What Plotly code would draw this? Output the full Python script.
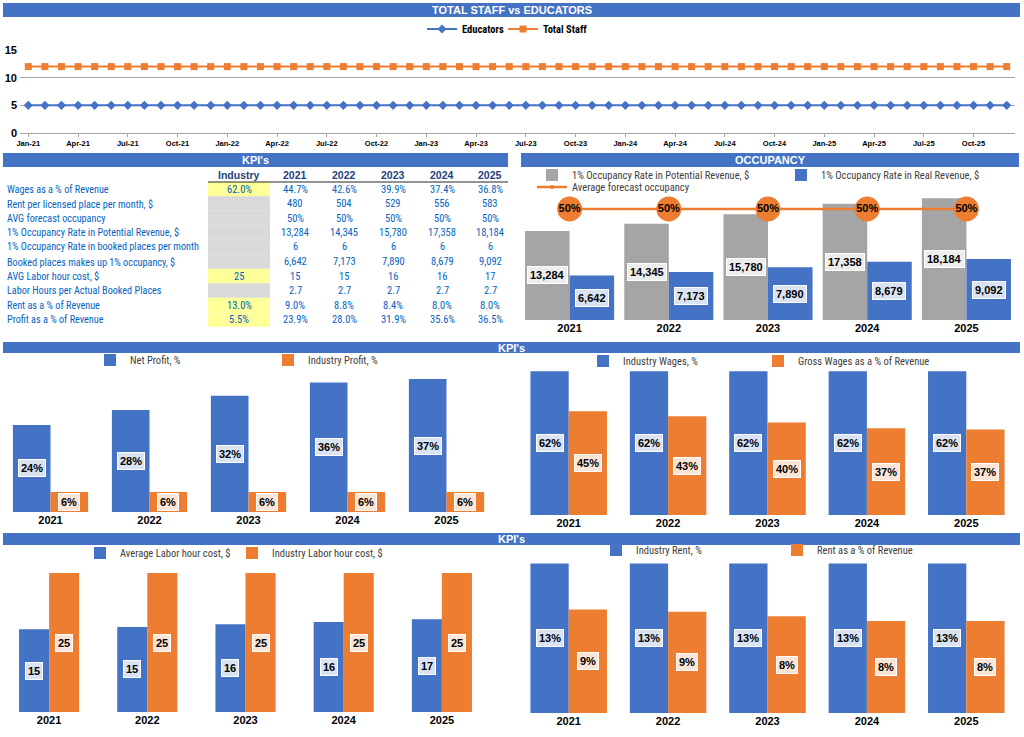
import math
import plotly.graph_objects as go

W, H = 1024, 737
def fx(x): return x / W
def fy(y): return 1 - y / H

BLUE = "#4472C4"; ORANGE = "#ED7D31"; GRAY = "#A5A5A5"
FONT = "Liberation Sans"
NARROW = "Liberation Sans Narrow, Arial Narrow, Roboto Condensed, DejaVu Sans Condensed, Liberation Sans"
TXT_BLUE = "#0563C1"; HDR_BLUE = "#1F3F7F"

# ---------------- data ----------------
months = [
    "Jan-21", "Feb-21", "Mar-21", "Apr-21", "May-21", "Jun-21", "Jul-21", "Aug-21", "Sep-21", "Oct-21", "Nov-21", "Dec-21",
    "Jan-22", "Feb-22", "Mar-22", "Apr-22", "May-22", "Jun-22", "Jul-22", "Aug-22", "Sep-22", "Oct-22", "Nov-22", "Dec-22",
    "Jan-23", "Feb-23", "Mar-23", "Apr-23", "May-23", "Jun-23", "Jul-23", "Aug-23", "Sep-23", "Oct-23", "Nov-23", "Dec-23",
    "Jan-24", "Feb-24", "Mar-24", "Apr-24", "May-24", "Jun-24", "Jul-24", "Aug-24", "Sep-24", "Oct-24", "Nov-24", "Dec-24",
    "Jan-25", "Feb-25", "Mar-25", "Apr-25", "May-25", "Jun-25", "Jul-25", "Aug-25", "Sep-25", "Oct-25", "Nov-25", "Dec-25",
]
educators = [
    5, 5, 5, 5, 5, 5, 5, 5, 5, 5, 5, 5,
    5, 5, 5, 5, 5, 5, 5, 5, 5, 5, 5, 5,
    5, 5, 5, 5, 5, 5, 5, 5, 5, 5, 5, 5,
    5, 5, 5, 5, 5, 5, 5, 5, 5, 5, 5, 5,
    5, 5, 5, 5, 5, 5, 5, 5, 5, 5, 5, 5,
]
total_staff = [
    12, 12, 12, 12, 12, 12, 12, 12, 12, 12, 12, 12,
    12, 12, 12, 12, 12, 12, 12, 12, 12, 12, 12, 12,
    12, 12, 12, 12, 12, 12, 12, 12, 12, 12, 12, 12,
    12, 12, 12, 12, 12, 12, 12, 12, 12, 12, 12, 12,
    12, 12, 12, 12, 12, 12, 12, 12, 12, 12, 12, 12,
]
staff_ticks = ["Jan-21", "Apr-21", "Jul-21", "Oct-21", "Jan-22", "Apr-22", "Jul-22", "Oct-22",
               "Jan-23", "Apr-23", "Jul-23", "Oct-23", "Jan-24", "Apr-24", "Jul-24", "Oct-24",
               "Jan-25", "Apr-25", "Jul-25", "Oct-25"]
staff_yticks = [0, 5, 10, 15]

years = ["2021", "2022", "2023", "2024", "2025"]

kpi_header = ["Industry", "2021", "2022", "2023", "2024", "2025"]
kpi_labels = [
    "Wages as a % of Revenue",
    "Rent per licensed place per month, $",
    "AVG forecast occupancy",
    "1% Occupancy Rate in Potential Revenue, $",
    "1% Occupancy Rate in booked places per month",
    "Booked places makes up 1% occupancy, $",
    "AVG Labor hour cost, $",
    "Labor Hours per Actual Booked Places",
    "Rent as a % of Revenue",
    "Profit as a % of Revenue",
]
kpi_industry = ["62.0%", "", "", "", "", "", "25", "", "13.0%", "5.5%"]
kpi_2021 = ["44.7%", "480", "50%", "13,284", "6", "6,642", "15", "2.7", "9.0%", "23.9%"]
kpi_2022 = ["42.6%", "504", "50%", "14,345", "6", "7,173", "15", "2.7", "8.8%", "28.0%"]
kpi_2023 = ["39.9%", "529", "50%", "15,780", "6", "7,890", "16", "2.7", "8.4%", "31.9%"]
kpi_2024 = ["37.4%", "556", "50%", "17,358", "6", "8,679", "16", "2.7", "8.0%", "35.6%"]
kpi_2025 = ["36.8%", "583", "50%", "18,184", "6", "9,092", "17", "2.7", "8.0%", "36.5%"]
industry_fill = ["#FFFF99", "#D9D9D9", "#D9D9D9", "#D9D9D9", "#D9D9D9", "#D9D9D9",
                 "#FFFF99", "#D9D9D9", "#FFFF99", "#FFFF99"]

potential_revenue = [13284, 14345, 15780, 17358, 18184]
real_revenue = [6642, 7173, 7890, 8679, 9092]
avg_occupancy = [0.5, 0.5, 0.5, 0.5, 0.5]

net_profit = [23.9, 28.0, 31.9, 35.6, 36.5]
industry_profit = [5.5, 5.5, 5.5, 5.5, 5.5]

industry_wages = [62.0, 62.0, 62.0, 62.0, 62.0]
gross_wages = [44.7, 42.6, 39.9, 37.4, 36.8]

avg_labor_cost = [14.9, 15.3, 15.8, 16.2, 16.7]
industry_labor_cost = [25, 25, 25, 25, 25]

industry_rent = [13.0, 13.0, 13.0, 13.0, 13.0]
rent_pct = [9.0, 8.8, 8.4, 8.0, 8.0]

# ---------------- helpers ----------------
def r0(v):
    return math.floor(v + 0.5)

fmt_pct = lambda v: f"{r0(v)}%"
fmt_int = lambda v: f"{r0(v)}"
fmt_thou = lambda v: f"{v:,.0f}"

fig = go.Figure()
legends = {}

def add_legend(key, text_x, y, bold=False, color="#404040"):
    f = dict(family=NARROW, size=10.5, color=color)
    if bold:
        f["weight"] = "bold"
    legends[key] = dict(x=fx(text_x - 40), y=fy(y), xref="paper", yref="paper",
                        xanchor="left", yanchor="middle", orientation="h",
                        bgcolor="rgba(0,0,0,0)", borderwidth=0, font=f)

def header(x0, x1, y0, y1, text):
    fig.add_shape(type="rect", xref="paper", yref="paper", x0=fx(x0), x1=fx(x1), y0=fy(y1), y1=fy(y0),
                  fillcolor=BLUE, line=dict(width=0), layer="below")
    fig.add_annotation(xref="paper", yref="paper", x=fx((x0 + x1) / 2), y=fy((y0 + y1) / 2),
                       text=text, showarrow=False, xanchor="center", yanchor="middle",
                       font=dict(family=FONT, size=11, color="white", weight="bold"))

def label(xa, ya, x, y, text, bg):
    fig.add_annotation(xref=xa, yref=ya, x=x, y=y, text=text, showarrow=False,
                       xanchor="center", yanchor="middle", bgcolor=bg, borderpad=2,
                       bordercolor="white", borderwidth=1,
                       font=dict(family=FONT, size=11, color="black", weight="bold"))

def cat_xaxis(dom):
    return dict(domain=[fx(dom[0]), fx(dom[1])], type="category", range=[-0.5, 4.5],
                showgrid=False, zeroline=False, showline=False, ticks="", automargin=False,
                tickfont=dict(family=FONT, size=11, color="black", weight="bold"), fixedrange=True)

def val_yaxis(dom, rng, anchor):
    return dict(domain=[fy(dom[1]), fy(dom[0])], range=rng, visible=False, anchor=anchor,
                automargin=False, fixedrange=True)

layout_axes = {}

def pair_chart(n, s1, s2, n1, n2, c1, c2, bg1, bg2, w, fmt, xdom, ydom, yrng, leg1, leg2):
    xa, ya = f"x{n}", f"y{n}"
    fig.add_trace(go.Bar(x=years, y=s1, name=n1, marker=dict(color=c1, line=dict(width=0)),
                         width=w, offset=-w, xaxis=xa, yaxis=ya, legend=leg1, hoverinfo="skip"))
    fig.add_trace(go.Bar(x=years, y=s2, name=n2, marker=dict(color=c2, line=dict(width=0)),
                         width=w, offset=0, xaxis=xa, yaxis=ya, legend=leg2, hoverinfo="skip"))
    for i, (a, b) in enumerate(zip(s1, s2)):
        label(xa, ya, i - w / 2, a / 2, fmt(a), bg1)
        label(xa, ya, i + w / 2, b / 2, fmt(b), bg2)
    layout_axes[f"xaxis{n}"] = dict(cat_xaxis(xdom), anchor=ya)
    layout_axes[f"yaxis{n}"] = val_yaxis(ydom, yrng, xa)

# ---------------- headers ----------------
header(3, 1020, 3, 17, "TOTAL STAFF vs EDUCATORS")
header(3, 508, 153, 167, "KPI's")
header(521, 1019, 153, 167, "OCCUPANCY")
header(3, 1020, 342, 353, "KPI's")
header(3, 1020, 533, 545, "KPI's")

# ---------------- staff line chart ----------------
fig.add_trace(go.Scatter(x=months, y=educators, name="Educators", mode="lines+markers",
                         line=dict(color=BLUE, width=2), marker=dict(symbol="diamond", size=7, color=BLUE),
                         xaxis="x", yaxis="y", legend="legend", hoverinfo="skip"))
fig.add_trace(go.Scatter(x=months, y=total_staff, name="Total Staff", mode="lines+markers",
                         line=dict(color=ORANGE, width=2), marker=dict(symbol="square", size=7, color=ORANGE),
                         xaxis="x", yaxis="y", legend="legend2", hoverinfo="skip"))
add_legend("legend", 462, 29, bold=True, color="black")
add_legend("legend2", 543, 29, bold=True, color="black")

layout_axes["xaxis"] = dict(domain=[fx(20), fx(1015)], type="category", range=[-0.5, 59.5],
                            tickmode="array", tickvals=staff_ticks, ticktext=staff_ticks,
                            tickfont=dict(family=FONT, size=7.5, color="black", weight="bold"),
                            showgrid=False, showline=True, linecolor="#A6A6A6", ticks="outside",
                            ticklen=3, tickcolor="#A6A6A6", anchor="y", automargin=False, fixedrange=True)
layout_axes["yaxis"] = dict(domain=[fy(133), fy(50)], range=[0, 15], tickvals=staff_yticks,
                            showgrid=True, gridcolor="#A6A6A6", gridwidth=1, zeroline=False,
                            showline=False, ticks="", anchor="x", automargin=False, ticklabelstandoff=2,
                            tickfont=dict(family=FONT, size=11, color="black", weight="bold"), fixedrange=True)

# ---------------- KPI table (text cells) ----------------
col_centers = [239, 295, 344, 393, 442, 490]
row0_y, row_h = 189, 14.5
for c, t in zip(col_centers, kpi_header):
    fig.add_annotation(xref="paper", yref="paper", x=fx(c), y=fy(175), text=t, showarrow=False,
                       xanchor="center", yanchor="middle",
                       font=dict(family=FONT, size=10.5, color=HDR_BLUE, weight="bold"))
fig.add_shape(type="line", xref="paper", yref="paper", x0=fx(208), x1=fx(508), y0=fy(182), y1=fy(182),
              line=dict(color="#262626", width=1))
columns = [kpi_industry, kpi_2021, kpi_2022, kpi_2023, kpi_2024, kpi_2025]
for i, lab in enumerate(kpi_labels):
    yc = row0_y + i * row_h
    fig.add_shape(type="rect", xref="paper", yref="paper", x0=fx(208), x1=fx(270),
                  y0=fy(yc + row_h / 2), y1=fy(yc - row_h / 2), fillcolor=industry_fill[i],
                  line=dict(width=0), layer="below")
    fig.add_annotation(xref="paper", yref="paper", x=fx(5), y=fy(yc), text=lab, showarrow=False,
                       xanchor="left", yanchor="middle",
                       font=dict(family=NARROW, size=10.2, color=TXT_BLUE))
    for c, col in zip(col_centers, columns):
        if col[i]:
            fig.add_annotation(xref="paper", yref="paper", x=fx(c), y=fy(yc), text=col[i], showarrow=False,
                               xanchor="center", yanchor="middle",
                               font=dict(family=NARROW, size=10.5, color=TXT_BLUE))

# ---------------- occupancy ----------------
pair_chart(2, potential_revenue, real_revenue, "1% Occupancy Rate in Potential Revenue, $",
           "1% Occupancy Rate in Real Revenue, $", GRAY, BLUE, "#EDEDED", "#DAE3F3",
           0.449, fmt_thou, (520, 1016), (190, 320), [0, 19400], "legend3", "legend4")
fig.add_trace(go.Scatter(x=years, y=avg_occupancy, name="Average forecast occupancy", mode="lines+markers",
                         line=dict(color=ORANGE, width=2.5), marker=dict(size=4, color=ORANGE),
                         xaxis="x2", yaxis="y3", legend="legend5", hoverinfo="skip"))
fig.add_trace(go.Scatter(x=years, y=avg_occupancy, mode="markers+text", showlegend=False,
                         marker=dict(size=25, color=ORANGE), text=[f"{r0(v * 100)}%" for v in avg_occupancy],
                         textposition="middle center",
                         textfont=dict(family=FONT, size=11, color="black", weight="bold"),
                         xaxis="x2", yaxis="y3", hoverinfo="skip"))
layout_axes["yaxis3"] = dict(domain=[fy(320), fy(190)], range=[0, 0.5856], overlaying="y2",
                             anchor="x2", visible=False, automargin=False, fixedrange=True)
add_legend("legend3", 572, 175)
add_legend("legend4", 821, 175)
add_legend("legend5", 572, 187)

# ---------------- profit ----------------
pair_chart(4, net_profit, industry_profit, "Net Profit, %", "Industry Profit, %", BLUE, ORANGE,
           "#DAE3F3", "#FBE5D6", 0.38, fmt_pct, (1, 496), (370, 512), [0, 39], "legend6", "legend7")
add_legend("legend6", 130, 360)
add_legend("legend7", 308, 360)

# ---------------- wages ----------------
pair_chart(5, industry_wages, gross_wages, "Industry Wages, %", "Gross Wages as a % of Revenue", BLUE, ORANGE,
           "#DAE3F3", "#FBE5D6", 0.385, fmt_pct, (519, 1016), (370, 515), [0, 62.5], "legend8", "legend9")
add_legend("legend8", 623, 361)
add_legend("legend9", 798, 361)

# ---------------- labor cost ----------------
pair_chart(6, avg_labor_cost, industry_labor_cost, "Average Labor hour cost, $", "Industry Labor hour cost, $",
           BLUE, ORANGE, "#DAE3F3", "#FBE5D6", 0.306, fmt_int, (0, 491), (568, 712), [0, 25.9],
           "legend10", "legend11")
add_legend("legend10", 120, 553)
add_legend("legend11", 272, 553)

# ---------------- rent ----------------
pair_chart(7, industry_rent, rent_pct, "Industry Rent, %", "Rent as a % of Revenue", BLUE, ORANGE,
           "#DAE3F3", "#FBE5D6", 0.385, fmt_pct, (519, 1016), (560, 713), [0, 13.3], "legend12", "legend13")
add_legend("legend12", 636, 550)
add_legend("legend13", 817, 550)

fig.update_layout(
    width=W, height=H, autosize=False,
    margin=dict(l=0, r=0, t=0, b=0, pad=0, autoexpand=False),
    paper_bgcolor="white", plot_bgcolor="white",
    barmode="overlay", showlegend=True,
    font=dict(family=FONT, size=10, color="#404040"),
    **layout_axes, **legends,
)

fig.write_html("out.html", post_script="document.body.style.margin='0px';")
